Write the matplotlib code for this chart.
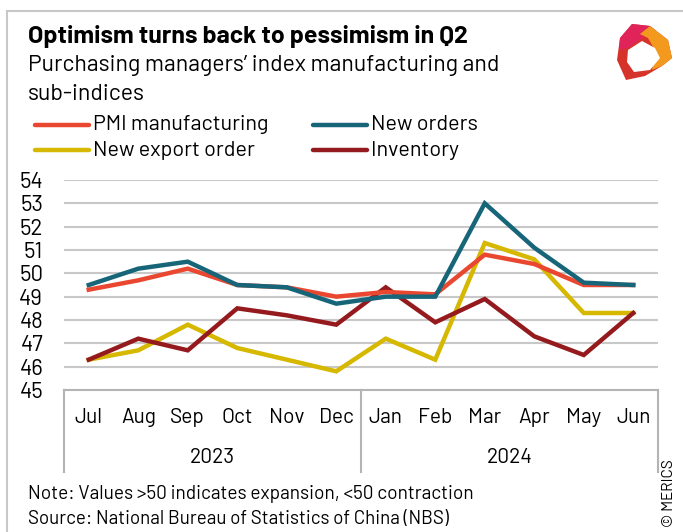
import matplotlib
matplotlib.use("Agg")
from matplotlib import pyplot as plt
from matplotlib.patches import Rectangle, Polygon
from matplotlib.transforms import blended_transform_factory

# data: PMI manufacturing and sub-indices, Jul 2023 - Jun 2024
months = ['Jul', 'Aug', 'Sep', 'Oct', 'Nov', 'Dec', 'Jan', 'Feb', 'Mar', 'Apr', 'May', 'Jun']
years = ['2023', '2024']
pmi = [49.3, 49.7, 50.2, 49.5, 49.4, 49.0, 49.2, 49.1, 50.8, 50.4, 49.5, 49.5]
new_orders = [49.5, 50.2, 50.5, 49.5, 49.4, 48.7, 49.0, 49.0, 53.0, 51.1, 49.6, 49.5]
new_export = [46.3, 46.7, 47.8, 46.8, 46.3, 45.8, 47.2, 46.3, 51.3, 50.6, 48.3, 48.3]
inventory = [46.3, 47.2, 46.7, 48.5, 48.2, 47.8, 49.4, 47.9, 48.9, 47.3, 46.5, 48.3]
yticks = list(range(45, 55))

plt.rcParams['font.family'] = ['Barlow', 'DejaVu Sans']

W, H = 683, 532
fig = plt.figure(figsize=(W / 100, H / 100), dpi=100)

def fx(px):
    return px / W

def fy(py):
    return 1 - py / H

def fig_poly(pts, color):
    fig.patches.append(Polygon([(fx(x), fy(y)) for x, y in pts], closed=True,
                               transform=fig.transFigure, facecolor=color, edgecolor='none'))

# outer frame
fig.patches.append(Rectangle((fx(7), fy(600)), fx(700), fy(11) - fy(600), transform=fig.transFigure,
                             fill=False, edgecolor='#C8C8C8', lw=1.5))

fig.text(fx(28), fy(37), 'Optimism turns back to pessimism in Q2', fontsize=17.9, fontweight='bold',
         va='center', ha='left', color='black')
fig.text(fx(28), fy(66), 'Purchasing managers\u2019 index manufacturing and', fontsize=16.6,
         va='center', ha='left', color='black')
fig.text(fx(28), fy(94), 'sub-indices', fontsize=16.6, va='center', ha='left', color='black')

# logo: ring with three coloured segments
fig_poly([(617, 60), (620, 38), (632, 24), (650, 26), (668, 40), (672, 58), (662, 66),
          (645, 76), (626, 80)], '#D6332B')
fig_poly([(620, 38), (632, 24), (650, 26), (655, 30), (640, 40), (628, 48), (619, 50)], '#E0245A')
fig_poly([(650, 26), (668, 40), (672, 58), (662, 66), (652, 70), (656, 52), (648, 38), (640, 34)],
         '#F39A1E')
fig_poly([(628, 50), (642, 41), (655, 48), (660, 58), (650, 70), (634, 72), (627, 62)], 'white')

ax = fig.add_axes([fx(64), fy(390), fx(658) - fx(64), fy(180) - fy(390)])

series = [
    ('PMI manufacturing', pmi, '#E9472F'),
    ('New orders', new_orders, '#176579'),
    ('New export order', new_export, '#D6B800'),
    ('Inventory', inventory, '#951A1D'),
]
x = list(range(len(months)))
for label, vals, col in [series[2], series[3], series[0], series[1]]:
    ax.plot(x, vals, color=col, lw=3.2, solid_joinstyle='miter', zorder=3)

ax.set_xlim(-0.5, len(months) - 0.5)
ax.set_ylim(45, 54)
ax.set_yticks(yticks)
ax.set_yticklabels([str(v) for v in yticks], fontsize=16)
ax.tick_params(axis='y', length=0, pad=15)
ax.set_xticks([])
for y in yticks[1:]:
    ax.axhline(y, color='#C8C8C8', lw=1.5, zorder=1)
for s in ['top', 'right', 'left']:
    ax.spines[s].set_visible(False)
ax.spines['bottom'].set_color('#B4B4B4')
ax.spines['bottom'].set_linewidth(1.5)

# category axis box
tr = blended_transform_factory(ax.transData, ax.transAxes)
for xv in [-0.5, 5.5, 11.5]:
    ax.plot([xv, xv], [0, -0.39], transform=tr, color='#B4B4B4', lw=1.5, clip_on=False)
for i, m in enumerate(months):
    ax.text(i, -0.133, m, transform=tr, ha='center', va='center', fontsize=15)
ax.text(2.5, -0.322, years[0], transform=tr, ha='center', va='center', fontsize=15)
ax.text(8.5, -0.322, years[1], transform=tr, ha='center', va='center', fontsize=15)

# legend
leg_pos = [(35, 125), (313, 125), (35, 150), (313, 150)]
for (label, vals, col), (lx, ly) in zip(series, leg_pos):
    fig.add_artist(plt.Line2D([fx(lx), fx(lx + 54)], [fy(ly), fy(ly)], color=col, lw=3.2,
                              solid_capstyle='round', transform=fig.transFigure))
    fig.text(fx(lx + 58), fy(ly), label, fontsize=15.5, va='center', ha='left')

fig.text(fx(28), fy(494), 'Note: Values >50 indicates expansion, <50 contraction', fontsize=13.7,
         va='center', ha='left')
fig.text(fx(28), fy(519), 'Source: National Bureau of Statistics of China (NBS)', fontsize=13.5,
         va='center', ha='left')
fig.text(fx(669), fy(493), '\u00a9 MERICS', fontsize=11, rotation=90, va='center', ha='center')

fig.savefig('out.png', dpi=100)
